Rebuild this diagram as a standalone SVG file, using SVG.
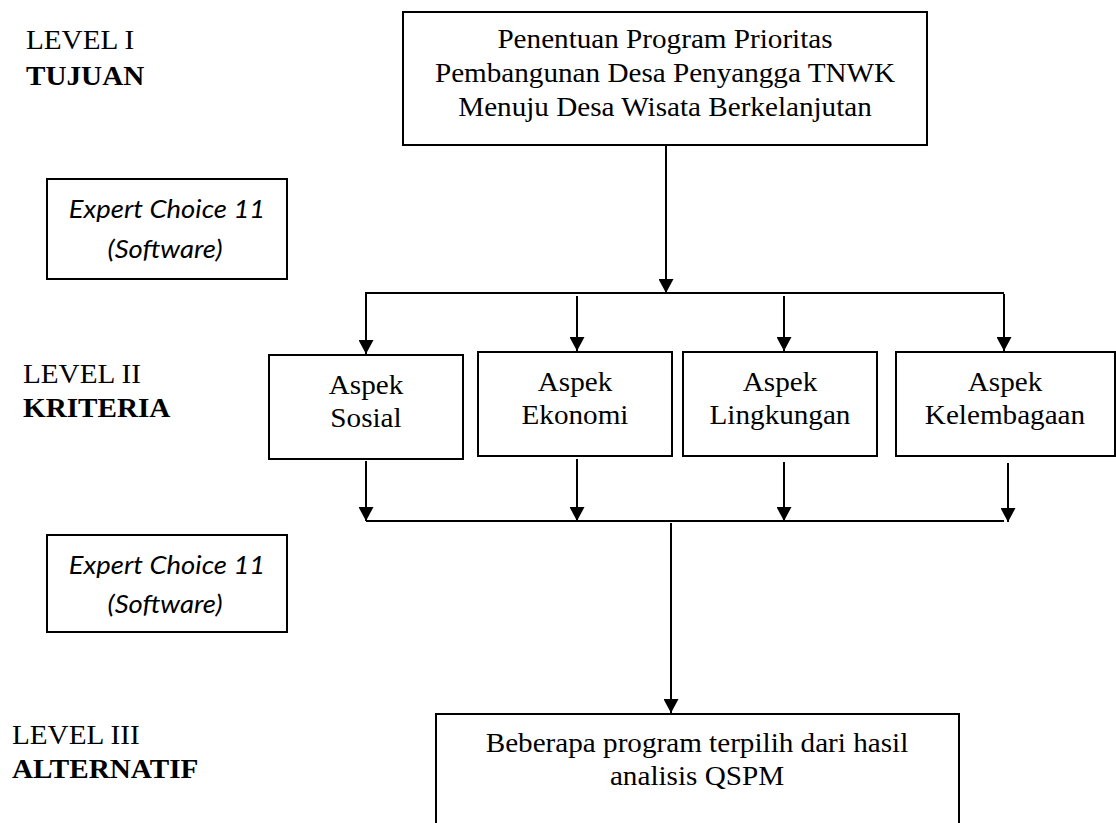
<svg xmlns="http://www.w3.org/2000/svg" width="1116" height="823" viewBox="0 0 1116 823">
<style>
.bg{fill:#fff}
.box{fill:#fff;stroke:#000;stroke-width:2}
.t{font-family:"Liberation Serif","Times New Roman",serif;font-size:27px;fill:#000}
.b{font-weight:bold}
.m{text-anchor:middle}
.ec{font-family:Lato,"Open Sans",sans-serif;font-style:italic;font-size:24.5px;fill:#000;text-anchor:middle}
.c{stroke:#000;stroke-width:2;fill:none}
</style>
<defs>
<marker id="ah" viewBox="0 0 14 15" refX="14" refY="7.5" markerWidth="14" markerHeight="15" markerUnits="userSpaceOnUse" orient="auto">
<path d="M0,0 L14,7.5 L0,15 z" fill="#000"/>
</marker>
</defs>
<rect class="bg" x="0" y="0" width="1116" height="823"/>

<g id="labels">
<text class="t" transform="matrix(1.08 0 0 1 26 49)">LEVEL I</text>
<text class="t b" transform="matrix(1.08 0 0 1 26 85)">TUJUAN</text>
<text class="t" transform="matrix(1.08 0 0 1 23 383)">LEVEL II</text>
<text class="t b" transform="matrix(1.08 0 0 1 23 417)">KRITERIA</text>
<text class="t" transform="matrix(1.08 0 0 1 12 744)">LEVEL III</text>
<text class="t b" transform="matrix(1.08 0 0 1 12 778)">ALTERNATIF</text>
</g>

<g id="tujuan">
<rect class="box" x="403" y="12" width="524" height="133"/>
<text class="t m" transform="matrix(1.08 0 0 1 665 48)">Penentuan Program Prioritas</text>
<text class="t m" transform="matrix(1.08 0 0 1 665 82)">Pembangunan Desa Penyangga TNWK</text>
<text class="t m" transform="matrix(1.08 0 0 1 665 116)">Menuju Desa Wisata Berkelanjutan</text>
</g>

<g id="software1">
<rect class="box" x="47" y="179" width="240" height="100"/>
<text class="ec" transform="matrix(1.12 0 0 1 167 218)">Expert Choice 11</text>
<text class="ec" transform="matrix(1.12 0 0 1 165 258)">(Software)</text>
</g>

<g id="software2">
<rect class="box" x="47" y="535" width="240" height="97"/>
<text class="ec" transform="matrix(1.12 0 0 1 167 574)">Expert Choice 11</text>
<text class="ec" transform="matrix(1.12 0 0 1 165 613)">(Software)</text>
</g>

<g id="sosial">
<rect class="box" x="269" y="355" width="194" height="104"/>
<text class="t m" transform="matrix(1.08 0 0 1 366 394)">Aspek</text>
<text class="t m" transform="matrix(1.08 0 0 1 366 427)">Sosial</text>
</g>

<g id="ekonomi">
<rect class="box" x="478" y="352" width="194" height="104"/>
<text class="t m" transform="matrix(1.08 0 0 1 575 391)">Aspek</text>
<text class="t m" transform="matrix(1.08 0 0 1 575 424)">Ekonomi</text>
</g>

<g id="lingkungan">
<rect class="box" x="683" y="352" width="194" height="104"/>
<text class="t m" transform="matrix(1.08 0 0 1 780 391)">Aspek</text>
<text class="t m" transform="matrix(1.08 0 0 1 780 424)">Lingkungan</text>
</g>

<g id="kelembagaan">
<rect class="box" x="896" y="352" width="219" height="104"/>
<text class="t m" transform="matrix(1.08 0 0 1 1005 391)">Aspek</text>
<text class="t m" transform="matrix(1.08 0 0 1 1005 424)">Kelembagaan</text>
</g>

<g id="alternatif">
<rect class="box" x="436" y="714" width="523" height="130"/>
<text class="t m" transform="matrix(1.08 0 0 1 697 752)">Beberapa program terpilih dari hasil</text>
<text class="t m" transform="matrix(1.08 0 0 1 697 785)">analisis QSPM</text>
</g>

<g id="connectors">
<line class="c" x1="666" y1="145" x2="666" y2="293" marker-end="url(#ah)"/>
<line class="c" x1="366" y1="293" x2="1004" y2="293"/>
<line class="c" x1="366" y1="292" x2="366" y2="354" marker-end="url(#ah)"/>
<line class="c" x1="577" y1="296" x2="577" y2="351" marker-end="url(#ah)"/>
<line class="c" x1="784" y1="296" x2="784" y2="351" marker-end="url(#ah)"/>
<line class="c" x1="1004" y1="294" x2="1004" y2="351" marker-end="url(#ah)"/>
<line class="c" x1="366" y1="461" x2="366" y2="521" marker-end="url(#ah)"/>
<line class="c" x1="577" y1="459" x2="577" y2="521" marker-end="url(#ah)"/>
<line class="c" x1="784" y1="462" x2="784" y2="521" marker-end="url(#ah)"/>
<line class="c" x1="1008" y1="463" x2="1008" y2="522" marker-end="url(#ah)"/>
<line class="c" x1="366" y1="521" x2="1004" y2="521"/>
<line class="c" x1="671" y1="523" x2="671" y2="713" marker-end="url(#ah)"/>
</g>
</svg>
